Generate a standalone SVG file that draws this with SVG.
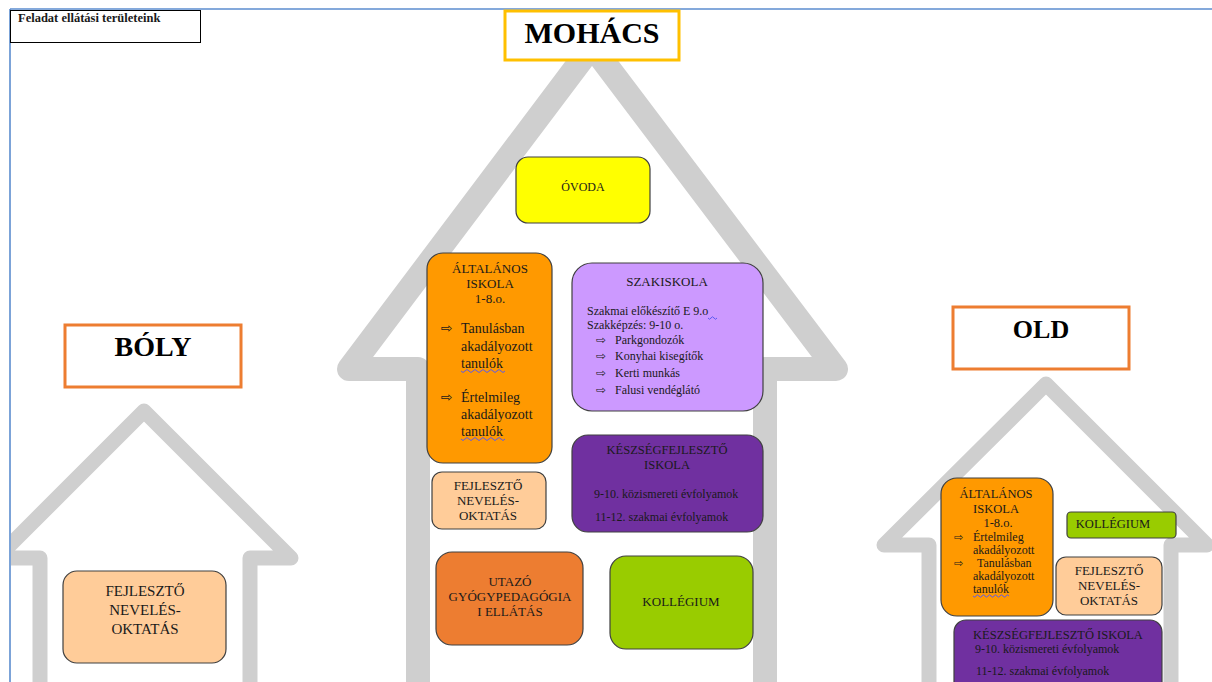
<svg xmlns="http://www.w3.org/2000/svg" width="1212" height="682" viewBox="0 0 1212 682">
<style>
.house{fill:none;stroke:#cfcfcf;stroke-linejoin:round;stroke-linecap:butt}
.node{stroke:#404040;stroke-width:1.2}
.t{font-family:"Liberation Serif","Times New Roman",serif;fill:#1a1a1a}
.c{text-anchor:middle}
.title{font-family:"Liberation Serif","Times New Roman",serif;font-weight:bold;fill:#000;text-anchor:middle}
.arr{font-family:"DejaVu Sans",sans-serif;fill:#1a1a1a}
.wavy{fill:none;stroke:#5a5af0;stroke-width:1}
</style>
<defs>
<clipPath id="frame"><rect x="11" y="10" width="1201" height="672"/></clipPath>
</defs>
<rect width="1212" height="682" fill="#fff"/>

<g id="houses" clip-path="url(#frame)">
<path class="house" stroke-width="24" d="M418,690 L418,369 L349,369 L592,46 L836,369 L765,369 L765,690"/>
<path class="house" stroke-width="15" d="M40,690 L40,558 L-3,558 L144,411 L291,558 L250,558 L250,690"/>
<path class="house" stroke-width="15" d="M929,690 L929,545 L884,545 L1046,384 L1207,545 L1171,545 L1171,690"/>
</g>

<g id="frame-lines">
<line x1="10" y1="9" x2="1212" y2="9" stroke="#5b8ccf" stroke-width="1.6"/>
<line x1="10" y1="9" x2="10" y2="682" stroke="#5b8ccf" stroke-width="1.6"/>
</g>

<g id="label">
<rect x="10.5" y="10.5" width="190" height="32" fill="#fff" stroke="#000" stroke-width="1"/>
<text class="t" x="18" y="22" font-size="12.5" font-weight="bold" fill="#000">Feladat ellátási területeink</text>
</g>

<g id="mohacs-title">
<rect x="505" y="11" width="174" height="49" fill="#fff" stroke="#ffc000" stroke-width="3"/>
<text class="title" x="592" y="43" font-size="30">MOHÁCS</text>
</g>
<g id="boly-title">
<rect x="65" y="325" width="176" height="62" fill="#fff" stroke="#ed7d31" stroke-width="3"/>
<text class="title" x="153" y="356" font-size="28">BÓLY</text>
</g>
<g id="old-title">
<rect x="953" y="307" width="176" height="62" fill="#fff" stroke="#ed7d31" stroke-width="3"/>
<text class="title" x="1041" y="338" font-size="26">OLD</text>
</g>

<g id="connectors"></g>

<g id="ovoda">
<rect class="node" x="516" y="157" width="134" height="66" rx="12" fill="#ffff00"/>
<text class="t c" x="583" y="191" font-size="12">ÓVODA</text>
</g>

<g id="mohacs-altalanos">
<rect class="node" x="427" y="253" width="125" height="210" rx="16" fill="#ff9900"/>
<text class="t c" x="490" y="273" font-size="13">ÁLTALÁNOS</text>
<text class="t c" x="490" y="288" font-size="13">ISKOLA</text>
<text class="t c" x="490" y="303" font-size="13">1-8.o.</text>
<text class="arr" x="441" y="333" font-size="14">⇨</text>
<text class="t" x="461" y="333" font-size="14">Tanulásban</text>
<text class="t" x="461" y="351" font-size="14">akadályozott</text>
<text class="t" x="461" y="368" font-size="14">tanulók</text>
<path class="wavy" d="M461,371 q2,3 4,0 t4,0 t4,0 t4,0 t4,0 t4,0 t4,0 t4,0 t4,0 t4,0 t4,0"/>
<text class="arr" x="441" y="402" font-size="14">⇨</text>
<text class="t" x="461" y="402" font-size="14">Értelmileg</text>
<text class="t" x="461" y="419" font-size="14">akadályozott</text>
<text class="t" x="461" y="436" font-size="14">tanulók</text>
<path class="wavy" d="M461,439 q2,3 4,0 t4,0 t4,0 t4,0 t4,0 t4,0 t4,0 t4,0 t4,0 t4,0 t4,0"/>
</g>

<g id="szakiskola">
<rect class="node" x="572" y="263" width="191" height="148" rx="20" fill="#cc99ff"/>
<text class="t c" x="667" y="286" font-size="13">SZAKISKOLA</text>
<text class="t" x="587" y="315" font-size="12">Szakmai előkészítő E 9.o</text>
<path class="wavy" d="M708,318 q1.5,2.5 3,0 t3,0 t3,0"/>
<text class="t" x="587" y="329" font-size="12">Szakképzés: 9-10 o.</text>
<text class="arr" x="596" y="344" font-size="12">⇨</text>
<text class="t" x="615" y="344" font-size="12">Parkgondozók</text>
<text class="arr" x="596" y="360" font-size="12">⇨</text>
<text class="t" x="615" y="360" font-size="12">Konyhai kisegítők</text>
<text class="arr" x="596" y="377" font-size="12">⇨</text>
<text class="t" x="615" y="377" font-size="12">Kerti munkás</text>
<text class="arr" x="596" y="394" font-size="12">⇨</text>
<text class="t" x="615" y="394" font-size="12">Falusi vendéglátó</text>
</g>

<g id="mohacs-keszseg">
<rect class="node" x="572" y="435" width="191" height="97" rx="16" fill="#7030a0"/>
<text class="t c" x="667" y="454" font-size="12.5">KÉSZSÉGFEJLESZTŐ</text>
<text class="t c" x="667" y="469" font-size="12.5">ISKOLA</text>
<text class="t" x="594" y="498" font-size="12">9-10. közismereti évfolyamok</text>
<text class="t" x="595" y="521" font-size="12">11-12. szakmai évfolyamok</text>
</g>

<g id="mohacs-fejleszto">
<rect class="node" x="432" y="472" width="114" height="57" rx="10" fill="#ffcc99"/>
<text class="t c" x="488" y="490" font-size="13">FEJLESZTŐ</text>
<text class="t c" x="488" y="505" font-size="13">NEVELÉS-</text>
<text class="t c" x="488" y="520" font-size="13">OKTATÁS</text>
</g>

<g id="utazo">
<rect class="node" x="436" y="552" width="147" height="93" rx="16" fill="#ed7d31"/>
<text class="t c" x="510" y="586" font-size="13">UTAZÓ</text>
<text class="t c" x="510" y="601" font-size="13">GYÓGYPEDAGÓGIA</text>
<text class="t c" x="510" y="616" font-size="13">I ELLÁTÁS</text>
</g>

<g id="mohacs-kollegium">
<rect class="node" x="610" y="556" width="143" height="93" rx="16" fill="#99cc00"/>
<text class="t c" x="681" y="606" font-size="13">KOLLÉGIUM</text>
</g>

<g id="boly-fejleszto">
<rect class="node" x="63" y="571" width="163" height="92" rx="14" fill="#ffcc99"/>
<text class="t c" x="145" y="596" font-size="15">FEJLESZTŐ</text>
<text class="t c" x="145" y="615" font-size="15">NEVELÉS-</text>
<text class="t c" x="145" y="634" font-size="15">OKTATÁS</text>
</g>

<g id="old-altalanos">
<rect class="node" x="941" y="478" width="112" height="138" rx="16" fill="#ff9900"/>
<text class="t c" x="996" y="498" font-size="12.5">ÁLTALÁNOS</text>
<text class="t c" x="996" y="513" font-size="12.5">ISKOLA</text>
<text class="t c" x="998" y="527" font-size="12.5">1-8.o.</text>
<text class="arr" x="954" y="541" font-size="11">⇨</text>
<text class="t" x="973" y="541" font-size="12">Értelmileg</text>
<text class="t" x="973" y="554" font-size="12">akadályozott</text>
<text class="arr" x="954" y="567" font-size="11">⇨</text>
<text class="t" x="977" y="567" font-size="12">Tanulásban</text>
<text class="t" x="973" y="580" font-size="12">akadályozott</text>
<text class="t" x="973" y="593" font-size="12">tanulók</text>
<path class="wavy" d="M973,596 q1.5,2.5 3,0 t3,0 t3,0 t3,0 t3,0 t3,0 t3,0 t3,0 t3,0 t3,0 t3,0 t3,0"/>
</g>

<g id="old-kollegium">
<rect class="node" x="1067" y="512" width="109" height="26" rx="4" fill="#99cc00"/>
<text class="t c" x="1113" y="528" font-size="12.5">KOLLÉGIUM</text>
</g>

<g id="old-fejleszto">
<rect class="node" x="1056" y="557" width="106" height="58" rx="10" fill="#ffcc99"/>
<text class="t c" x="1109" y="575" font-size="13">FEJLESZTŐ</text>
<text class="t c" x="1109" y="590" font-size="13">NEVELÉS-</text>
<text class="t c" x="1109" y="605" font-size="13">OKTATÁS</text>
</g>

<g id="old-keszseg">
<rect class="node" x="954" y="620" width="208" height="80" rx="12" fill="#7030a0"/>
<text class="t c" x="1058" y="639" font-size="12.5">KÉSZSÉGFEJLESZTŐ ISKOLA</text>
<text class="t" x="975" y="653" font-size="12">9-10. közismereti évfolyamok</text>
<text class="t" x="976" y="675" font-size="12">11-12. szakmai évfolyamok</text>
</g>
</svg>
